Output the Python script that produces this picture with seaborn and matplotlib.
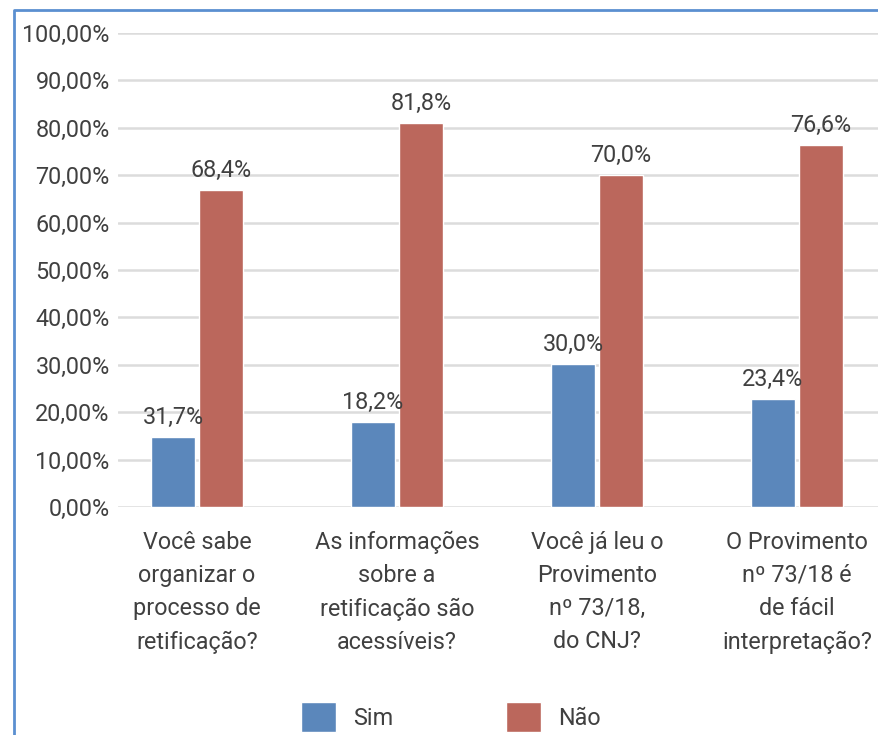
import matplotlib
matplotlib.use("Agg")
import matplotlib.pyplot as plt
from matplotlib.lines import Line2D
import seaborn as sns
import pandas as pd

# dados
perguntas = [
    "Você sabe\norganizar o\nprocesso de\nretificação?",
    "As informações\nsobre a\nretificação são\nacessíveis?",
    "Você já leu o\nProvimento\nnº 73/18,\ndo CNJ?",
    "O Provimento\nnº 73/18 é\nde fácil\ninterpretação?",
]
sim = [14.8, 17.9, 30.2, 22.8]
nao = [66.9, 81.0, 70.0, 76.4]
rotulos_sim = ["31,7%", "18,2%", "30,0%", "23,4%"]
rotulos_nao = ["68,4%", "81,8%", "70,0%", "76,6%"]
yticks = [0, 10, 20, 30, 40, 50, 60, 70, 80, 90, 100]

df = pd.DataFrame({
    "pergunta": perguntas * 2,
    "resposta": ["Sim"] * 4 + ["Não"] * 4,
    "valor": sim + nao,
})

sns.set_style("white")
plt.rcParams["font.family"] = ["Roboto", "DejaVu Sans"]
cor_texto = "#404040"
fs = 16.8

fig = plt.figure(figsize=(8.79, 7.35), dpi=100)
ax = fig.add_axes([118 / 879, 228 / 735, 1 - 118 / 879, 474 / 735])

sns.barplot(data=df, x="pergunta", y="valor", hue="resposta",
            palette={"Sim": "#5b87bb", "Não": "#bb675c"},
            width=0.48, gap=0.1, ax=ax, saturation=1)

for cont, labs in zip(ax.containers, [rotulos_sim, rotulos_nao]):
    ax.bar_label(cont, labels=labs, padding=6, fontsize=fs, color=cor_texto)

ax.set_ylim(0, 100)
ax.set_xlim(-0.395, 3.41)
ax.set_yticks(yticks)
ax.set_yticklabels([f"{v},00%" for v in yticks])
ax.yaxis.grid(True, color="#dcdcdc", lw=1.8)
ax.set_axisbelow(True)
ax.set_xlabel("")
ax.set_ylabel("")
ax.tick_params(axis="y", length=0, pad=6, labelsize=fs, labelcolor=cor_texto)
ax.tick_params(axis="x", length=0, pad=17, labelsize=fs, labelcolor=cor_texto)
for t in ax.get_xticklabels():
    t.set_linespacing(1.57)
sns.despine(ax=ax, left=True, bottom=True)

sns.move_legend(ax, "center", bbox_to_anchor=(451 / 879, 18 / 735),
                bbox_transform=fig.transFigure, ncol=2, frameon=False,
                title=None, fontsize=fs, handlelength=1.5, handleheight=1.6,
                handletextpad=0.75, columnspacing=4.8, labelcolor=cor_texto)

# moldura azul (só lados esquerdo e superior aparecem)
fig.add_artist(Line2D([14 / 879, 14 / 879, 1.2], [-0.1, 725 / 735, 725 / 735],
                      transform=fig.transFigure, color="#5b8fd0", lw=2))

fig.savefig("out.png", dpi=100)
